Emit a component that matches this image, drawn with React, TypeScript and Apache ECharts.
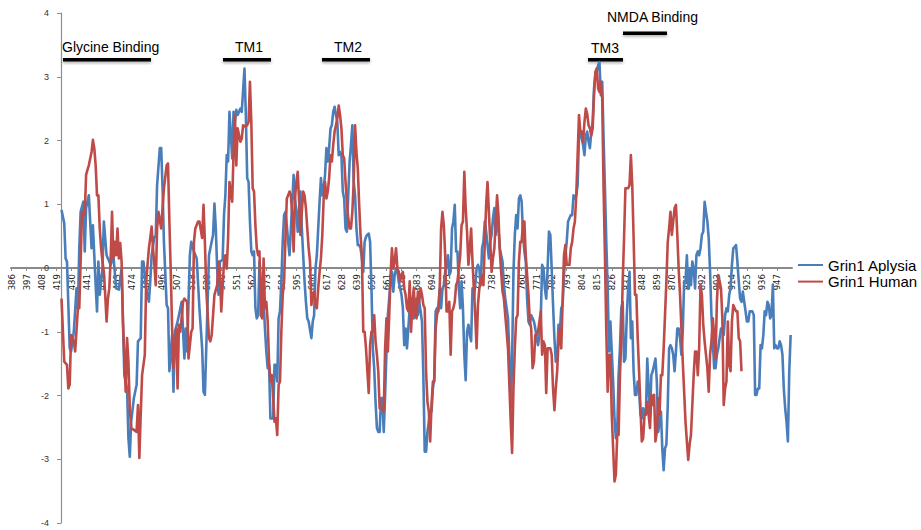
import React, { useEffect, useRef } from "react";
import * as echarts from "echarts";

// Residue tick labels along the sequence axis
const xTickLabels = [386,397,408,419,430,441,452,463,474,485,496,507,518,529,540,551,562,573,584,595,606,617,628,639,650,661,672,683,694,705,716,727,738,749,760,771,782,793,804,815,826,837,848,859,870,881,892,903,914,925,936,947];

const seriesNames = ["Grin1 Aplysia", "Grin1 Human"];

// Grin1 Aplysia hydrophobicity: [residue, score]
const aplysiaA = [[423,0.91],[425,0.70],[426,0.15],[427,0.10],[429,-1.26],[430,-1.31],[432,-1.00],[434,-0.32],[435,-0.63],[436,0.31],[437,0.88],[439,1.04],[440,0.26],[441,0.94],[443,1.14],[445,0.31],[446,0.67],[448,-0.27],[449,-0.68],[450,0.10],[451,-0.42],[453,-0.01],[454,0.73],[456,0.20],[457,0.15],[459,0.05],[461,0.20],[462,-0.06],[463,-0.32],[465,-0.34],[467,-0.01],[468,-0.84],[469,-1.68],[471,-1.89],[472,-2.67],[473,-2.96],[474,-2.41],[476,-2.04],[478,-1.83],[479,-1.15],[481,-1.10],[482,0.10],[483,0.10],[485,-0.32],[487,-0.53],[488,-0.21],[489,0.20],[491,0.49],[492,0.49],[493,1.30],[495,1.88],[496,1.88],[497,1.25],[498,0.41],[500,-0.58],[501,-0.63],[502,-1.62],[504,-1.05],[505,-1.94],[506,-1.00],[508,-0.84],[509,-0.74],[511,-0.53],[513,-1.42],[514,-0.95],[515,-1.31],[517,0.20],[518,0.41],[520,0.26],[522,0.15],[524,-0.63],[526,-1.26],[527,-1.94],[528,-1.99],[529,-1.26],[531,0.20],[532,0.31],[534,0.52],[535,1.01],[536,0.62],[537,-0.01],[538,-0.42],[539,0.10],[541,0.13],[542,0.83],[543,1.14],[544,1.77],[545,1.67],[546,2.45],[548,1.72],[549,2.45],[550,2.29],[551,2.48],[552,2.40],[554,2.50],[555,2.45]];
const aplysiaB = [[557,3.13],[558,2.40],[559,1.41],[560,1.35],[561,0.73],[562,0.26],[563,0.20],[564,0.26],[565,-0.63],[566,-0.79],[567,-0.74],[568,0.10],[569,-0.21],[570,-0.68],[571,-0.53],[572,-0.95],[573,-1.31],[574,-1.57],[575,-1.52],[576,-2.36],[578,-2.36],[579,-1.52],[580,-1.52],[581,-1.78],[582,-0.79],[583,-0.68],[584,-0.21],[585,0.41],[586,0.83],[587,0.88],[588,0.67],[589,0.41],[590,0.20],[591,0.62],[592,1.04],[593,1.46],[594,1.09],[595,0.88],[596,0.57],[597,0.94],[598,1.20],[599,0.62],[600,0.20],[601,-0.21],[602,-0.53],[603,-0.79],[604,-0.84],[606,-1.10],[607,-0.84],[608,-0.74],[609,-0.01],[610,0.20],[611,0.62],[612,1.04],[613,1.41],[614,1.14],[615,1.25],[616,1.46],[617,1.88],[618,1.67],[619,1.88],[620,2.19],[621,2.24],[622,2.45],[623,2.53],[624,2.40],[625,2.29],[626,1.77],[627,1.82],[628,1.77],[629,1.20],[630,1.09],[631,0.62],[632,0.57],[633,1.14],[634,1.67],[635,1.93],[636,2.24],[637,1.35],[638,1.14],[639,0.62],[640,0.36],[641,0.36],[642,0.31],[643,0.15],[644,-0.06],[645,0.41],[646,0.49],[647,0.52],[648,0.54],[649,0.41],[650,-0.32],[651,-1.26],[652,-1.57],[653,-2.10],[654,-2.51],[655,-2.57],[656,-2.57],[657,-2.04],[658,-2.04],[659,-2.57],[660,-1.99],[661,-1.31],[662,-0.74],[663,-0.48],[664,-0.21],[665,-0.06],[666,-0.37],[667,-0.11],[668,-0.01],[669,-0.06],[670,-0.21],[671,-0.32],[672,-0.42],[673,-0.63],[674,-1.21],[675,-0.95],[676,-1.26],[677,-0.95],[678,-0.63],[679,-0.79],[680,-0.48],[681,-0.79],[682,-0.53],[683,-0.48],[684,-0.74],[685,-0.53],[686,-0.68],[687,-0.84],[688,-1.68],[689,-2.88]];
const aplysiaC = [[690,-2.88],[691,-2.57],[692,-2.41],[693,-2.25],[694,-2.25],[695,-1.89],[696,-1.73],[697,-0.68],[698,-0.63],[699,-0.68],[700,-0.32],[701,-0.63],[702,-0.32],[703,-0.27],[704,-0.06],[705,0.05],[706,0.20],[707,-0.11],[708,-0.06],[709,0.62],[710,0.73],[711,0.99],[712,0.26],[713,0.26],[714,-0.32],[715,-0.63],[716,-0.21],[717,-0.63],[718,-1.36],[719,-1.76],[720,-1.00],[721,-0.89],[722,-1.05],[723,-1.15],[724,-0.32],[725,-0.48],[726,-0.27],[727,-0.01],[728,0.05],[729,-0.01],[730,-0.27],[731,0.31],[732,0.41],[733,0.73],[734,0.57],[735,0.36],[736,0.15],[737,0.41],[738,0.52],[739,0.78],[740,0.94],[741,0.52],[742,0.78],[743,0.62],[744,0.31],[745,0.20],[746,0.10],[747,-0.27],[748,-0.48],[749,-0.63],[750,-0.79],[751,-1.36],[752,-2.20],[753,-1.47],[754,-0.06],[755,0.52],[756,0.83],[757,0.62],[758,1.09],[759,1.14],[760,1.04],[761,0.52],[762,0.26],[763,0.10],[764,-0.48],[765,-0.84],[766,-0.89],[767,-0.74],[768,-0.79],[769,-0.84],[770,-0.95],[771,-1.10],[772,-1.21],[773,-1.05],[774,-0.79],[775,0.05],[776,-0.01],[777,-0.32],[778,-0.48],[779,-0.01],[780,0.57],[781,0.52],[782,-0.01],[783,-0.58],[784,-1.10],[785,-1.47],[786,-1.42],[787,-0.89],[788,-1.00],[789,-0.63],[790,-0.58],[791,-0.11],[792,0.20],[793,0.41],[794,0.73],[795,0.78],[796,0.83],[797,0.83],[798,1.14],[799,1.09],[800,1.14],[801,1.30],[802,2.08],[803,2.14],[804,2.03],[805,1.93],[806,1.77],[807,2.08],[808,2.14],[809,1.98],[810,1.88],[811,2.14],[812,2.29],[813,2.82],[814,3.03],[815,3.08],[816,3.18],[817,3.23],[818,2.71]];
const aplysiaD = [[819,2.92],[820,2.03],[821,1.25],[822,0.41],[823,-0.32],[824,-1.31],[825,-0.84],[826,-1.31],[827,-1.78],[828,-2.36],[829,-2.67],[830,-2.57],[831,-1.68],[832,-1.26],[833,-0.63],[834,-0.53],[835,-1.47],[836,-1.42],[837,-0.74],[838,-0.32],[839,-0.06],[840,-1.10],[841,-0.84],[842,-1.62],[843,-1.99],[844,-1.99],[845,-1.78],[846,-1.89],[847,-2.30],[848,-2.36],[849,-2.20],[850,-2.30],[851,-2.30],[852,-1.42],[853,-1.89],[854,-2.30],[855,-1.68],[856,-1.62],[857,-1.52],[858,-1.42],[859,-1.78],[860,-2.57],[861,-2.41],[862,-2.25],[863,-2.83],[864,-3.17],[865,-2.83],[866,-2.77],[867,-2.15],[868,-1.26],[869,-1.21],[870,-1.26],[871,-1.36],[872,-1.62],[873,-1.31],[874,-0.95],[875,-0.95],[876,-1.10],[877,-1.36],[878,-1.00],[879,-0.21],[880,-0.21],[881,0.20],[882,-0.32],[883,-0.01],[884,-0.27],[885,0.10],[886,-0.01],[887,-0.32],[888,0.20],[889,0.26],[890,0.20],[891,0.31],[892,0.52],[893,0.57],[894,1.04],[895,0.88],[896,0.73],[897,0.47],[898,-0.06],[899,-0.74],[900,-1.15],[901,-1.57],[902,-1.57],[903,-1.36],[904,-1.26],[905,-1.10],[906,-0.95],[907,-0.95],[908,-1.05],[909,-0.74],[910,-0.63],[911,-0.68],[912,-0.42],[913,-0.32],[914,0.05],[915,0.31],[916,0.33],[917,0.36],[918,0.10],[919,-0.21],[920,-0.48],[921,-0.53],[922,-0.37],[923,-0.53],[924,-0.68],[925,-0.84],[926,-0.84],[927,-0.68],[928,-0.68],[929,-0.68],[930,-0.74],[931,-1.99],[932,-1.99],[933,-1.89],[934,-1.89],[935,-1.21],[936,-1.26],[937,-1.05],[938,-0.68],[939,-0.74],[940,-0.53],[941,-0.58],[942,-0.79],[943,-0.74],[944,-0.26],[945,-1.26],[946,-1.21],[947,-1.26],[948,-1.26],[949,-1.15],[950,-1.21],[951,-1.36],[952,-1.89],[953,-2.20],[954,-2.41],[955,-2.72],[956,-1.62],[957,-1.05]];

// Grin1 Human hydrophobicity: [residue, score]
const humanA = [[423,-0.48],[425,-1.47],[427,-1.52],[428,-1.89],[429,-1.83],[430,-1.05],[432,-1.15],[433,-1.31],[435,-0.63],[436,-0.63],[437,0.10],[438,0.88],[440,0.83],[441,1.46],[442,1.54],[443,1.61],[445,1.82],[446,2.01],[447,1.88],[448,1.61],[449,1.14],[450,1.14],[451,0.62],[452,0.31],[453,0.10],[454,-0.06],[455,-0.42],[456,-0.84],[457,-0.48],[458,-0.32],[459,0.15],[460,0.88],[461,0.15],[462,0.41],[463,0.20],[464,0.62],[465,0.15],[466,0.39],[467,0.10],[468,-0.84],[470,-1.94],[471,-1.10],[472,-1.47],[473,-2.20],[474,-2.51],[476,-2.54],[478,-2.57],[479,-2.15],[480,-2.98],[481,-2.30],[482,-1.68],[484,-1.36],[485,-0.21],[487,0.31],[488,0.47],[489,0.65],[490,0.31],[491,0.05],[492,-0.27],[493,0.62],[494,0.88],[496,0.62],[497,0.94],[498,1.25],[500,1.61],[501,1.64],[502,0.73],[503,-0.06],[504,-0.95],[505,-1.57],[507,-0.95],[508,-1.89],[509,-0.89],[510,-1.00],[512,-0.53],[513,-0.48],[515,-0.53],[516,-1.42],[518,-1.00],[519,-0.95],[520,0.41],[521,0.62],[523,0.73],[524,0.73],[526,0.47],[527,0.99],[528,0.41],[529,-0.32],[531,-1.10],[532,-1.15],[533,-1.05],[534,-0.74],[535,-0.42],[537,-0.27],[538,0.10],[539,-0.06],[540,-0.68],[542,0.10],[543,0.20],[544,-0.01],[545,0.47],[546,1.35],[548,1.04],[549,1.82],[550,2.40],[551,1.61],[552,2.19],[554,1.98],[555,2.03],[556,2.24]];
const humanB = [[557,2.22],[559,2.24],[560,2.29],[561,2.92],[562,2.29],[563,1.25],[564,1.20],[565,0.67],[566,0.31],[567,0.20],[568,0.26],[569,-0.74],[570,-0.79],[571,0.15],[572,-0.63],[573,-0.53],[574,-0.84],[575,-1.47],[576,-1.78],[577,-1.68],[578,-2.04],[579,-2.41],[580,-2.36],[581,-2.62],[582,-1.83],[583,-1.78],[584,-1.00],[585,-0.42],[586,-0.21],[587,0.47],[588,1.09],[589,1.14],[590,1.20],[591,1.14],[592,0.83],[593,0.26],[594,1.09],[595,1.35],[596,1.51],[597,1.04],[598,0.52],[599,0.88],[600,1.20],[601,1.14],[602,0.94],[603,0.62],[604,0.31],[605,0.10],[606,-0.58],[607,-0.42],[608,-0.37],[609,-0.58],[610,-0.63],[611,-0.32],[612,-0.06],[613,0.15],[614,0.52],[615,1.09],[616,1.35],[617,1.09],[618,1.20],[619,1.41],[620,1.77],[621,1.67],[622,1.93],[623,2.14],[624,2.24],[625,2.35],[626,2.55],[627,2.40],[628,2.19],[629,1.77],[630,1.72],[631,1.35],[632,1.04],[633,0.78],[634,0.62],[635,0.62],[636,0.88],[637,1.35],[638,2.24],[639,1.82],[640,1.56],[641,0.99],[642,0.52],[643,0.20],[644,-1.00],[645,-1.00],[646,-1.26],[647,-1.62],[648,-1.96],[649,-1.21],[650,-1.00],[651,-1.00],[652,-0.74],[653,-1.15],[654,-1.36],[655,-1.62],[656,-2.20],[657,-2.20],[658,-2.20],[659,-2.25],[660,-1.26],[661,-0.79],[662,-1.31],[663,-0.74],[664,-0.11],[665,0.31],[666,-0.01],[667,0.10],[668,0.31],[669,-0.01],[670,-0.06],[671,-0.21],[672,-0.11],[673,-0.06],[674,-0.32],[675,-0.42],[676,-0.63],[677,-0.68],[678,-0.21],[679,-1.00],[680,-0.53],[681,-0.32],[682,-0.74],[683,-0.79],[684,-0.37],[685,-0.53],[686,-0.32],[687,-0.42],[688,-0.58],[689,-0.63]];
const humanC = [[690,-1.62],[691,-2.10],[692,-2.25],[693,-2.72],[694,-2.15],[695,-1.78],[696,-1.78],[697,-0.95],[698,-0.74],[699,-0.63],[700,-0.32],[701,0.62],[702,0.88],[703,0.67],[704,0.20],[705,-0.68],[706,-0.68],[707,-0.53],[708,-1.36],[709,-0.68],[710,-0.63],[711,-0.53],[712,-0.27],[713,-0.21],[714,-0.01],[715,0.20],[716,0.67],[717,0.73],[718,1.51],[719,0.94],[720,0.57],[721,0.05],[722,0.31],[723,0.62],[724,0.10],[725,-0.32],[726,-0.74],[727,-1.26],[728,-0.58],[729,-0.32],[730,-0.21],[731,-0.11],[732,-0.27],[733,0.41],[734,0.99],[735,1.35],[736,0.88],[737,0.41],[738,-0.06],[739,0.15],[740,0.31],[741,0.73],[742,1.14],[743,0.83],[744,0.26],[745,-0.06],[746,-0.37],[747,-0.48],[748,-0.74],[749,-1.00],[750,-1.26],[751,-1.83],[752,-2.41],[753,-2.90],[754,-1.89],[755,-1.26],[756,-0.79],[757,-0.74],[758,0.10],[759,0.41],[760,0.41],[761,0.73],[762,0.73],[763,0.20],[764,-0.11],[765,-0.42],[766,-0.84],[767,-0.95],[768,-1.57],[769,-1.47],[770,-1.05],[771,-1.05],[772,-1.00],[773,-0.84],[774,-0.68],[775,-1.36],[776,-1.15],[777,-1.21],[778,-1.96],[779,-1.26],[780,-1.26],[781,-1.26],[782,-1.36],[783,-1.89],[784,-2.23],[785,-1.89],[786,-1.62],[787,-1.15],[788,-0.95],[789,-1.26],[790,-0.53],[791,0.20],[792,0.36],[793,0.05],[794,0.05],[795,0.05],[796,0.31],[797,0.41],[798,0.62],[799,0.73],[800,1.14],[801,1.77],[802,2.40],[803,2.14],[804,2.14],[805,1.98],[806,2.29],[807,2.50],[808,2.42],[809,2.24],[810,2.19],[811,2.08],[812,2.19],[813,2.71],[814,3.08],[815,3.13],[816,2.82],[817,2.76],[818,2.92],[819,2.66]];
const humanD = [[820,1.25],[821,0.20],[822,-1.00],[823,-1.94],[824,-1.36],[825,-1.36],[826,-2.30],[827,-2.83],[828,-3.35],[829,-3.24],[830,-2.62],[831,-2.62],[832,-1.68],[833,-1.15],[834,-0.21],[835,0.47],[836,1.25],[837,1.25],[838,1.25],[839,1.30],[840,1.77],[841,1.30],[842,0.47],[843,-0.42],[844,-0.42],[845,-1.10],[846,-1.62],[847,-2.20],[848,-2.72],[849,-2.67],[850,-2.30],[851,-2.30],[852,-2.10],[853,-2.30],[854,-2.51],[855,-1.99],[856,-2.15],[857,-1.99],[858,-2.72],[859,-2.57],[860,-2.04],[861,-2.30],[862,-1.68],[863,-1.68],[864,-1.26],[865,-0.74],[866,-0.21],[867,0.41],[868,0.62],[869,0.88],[870,0.52],[871,0.73],[872,0.94],[873,0.99],[874,0.52],[875,-0.01],[876,-0.42],[877,-0.95],[878,-1.47],[879,-1.94],[880,-2.41],[881,-2.72],[882,-3.01],[883,-2.77],[884,-2.62],[885,-2.15],[886,-1.68],[887,-1.31],[888,-1.31],[889,-1.68],[890,-1.26],[891,-0.27],[892,-0.42],[893,-0.89],[894,-1.15],[895,-1.36],[896,-1.57],[897,-1.94],[898,-1.36],[899,-1.15],[900,-0.79],[901,-1.05],[902,-1.42],[903,-0.53],[904,-0.11],[905,-0.21],[906,-0.32],[907,-0.79],[908,-2.15],[909,-1.89],[910,-1.78],[911,-0.84],[912,-1.52],[913,-1.62],[914,-0.84],[915,-0.58],[916,-0.63],[917,-0.68],[918,-0.68],[919,-1.10],[920,-1.15],[921,-1.62]];

const aplysiaData = [...aplysiaA, ...aplysiaB, ...aplysiaC, ...aplysiaD];
const humanData = [...humanA, ...humanB, ...humanC, ...humanD];

const FONT = "'Liberation Sans', Arial, Helvetica, sans-serif";
const NARROW = "'Liberation Sans Narrow', 'DejaVu Sans Condensed', 'Arial Narrow', sans-serif";

export default function App() {
  const ref = useRef<HTMLDivElement>(null);
  useEffect(() => {
    if (!ref.current) return;
    const chart = echarts.init(ref.current, undefined, { renderer: "svg" });
    const bar = (x: number, y: number, w: number) => ({
      type: "rect",
      shape: { x, y, width: w, height: 3.5 },
      style: { fill: "#000", shadowBlur: 3, shadowColor: "rgba(0,0,0,0.35)", shadowOffsetY: 1.5 },
      silent: true,
    });
    const label = (text: string, x: number, y: number) => ({
      type: "text",
      x,
      y,
      style: { text, fontSize: 14, fontFamily: FONT, fill: "#000", verticalAlign: "middle", align: "left" },
      silent: true,
    });
    chart.setOption({
      animation: false,
      backgroundColor: "#fff",
      grid: { left: 11, right: 129, top: 13, bottom: 7, containLabel: false },
      xAxis: {
        type: "value",
        min: 386,
        max: 958,
        offset: -255,
        axisLine: { show: true, onZero: false, lineStyle: { color: "#8a8a8a", width: 2 } },
        axisTick: { show: true, customValues: xTickLabels, length: 3, lineStyle: { color: "#8a8a8a" } },
        axisLabel: {
          customValues: xTickLabels,
          rotate: 90,
          fontSize: 9.5,
          color: "#222",
          margin: 6,
          fontFamily: NARROW,
        },
        splitLine: { show: false },
      },
      yAxis: {
        type: "value",
        min: -4,
        max: 4,
        interval: 1,
        offset: -50,
        axisLine: { show: true, lineStyle: { color: "#8e8e8e", width: 1.2 } },
        axisTick: { show: true, length: 4, lineStyle: { color: "#8e8e8e" } },
        axisLabel: { fontSize: 9, color: "#333", margin: 12, fontFamily: FONT },
        splitLine: { show: false },
      },
      legend: {
        orient: "vertical",
        left: 798,
        top: 257,
        padding: 0,
        icon: "rect",
        itemWidth: 25,
        itemHeight: 2,
        itemGap: 0.6,
        textStyle: { fontSize: 15, color: "#000", fontFamily: FONT, lineHeight: 16 },
        data: seriesNames,
      },
      series: [
        {
          name: seriesNames[0],
          type: "line",
          data: aplysiaData,
          symbol: "none",
          showSymbol: false,
          lineStyle: { color: "#4A7EBB", width: 2.6, join: "round" },
          itemStyle: { color: "#4A7EBB" },
          z: 2,
        },
        {
          name: seriesNames[1],
          type: "line",
          data: humanData,
          symbol: "none",
          showSymbol: false,
          lineStyle: { color: "#BE4B48", width: 2.6, join: "round" },
          itemStyle: { color: "#BE4B48" },
          z: 3,
        },
      ],
      graphic: [
        label("Glycine Binding", 62, 47),
        bar(63, 58, 88),
        label("TM1", 235, 47),
        bar(223, 58, 48),
        label("TM2", 334, 47),
        bar(322, 58, 48),
        label("TM3", 591, 47.5),
        bar(588, 58, 35),
        label("NMDA Binding", 607, 17),
        bar(623, 31.5, 44),
      ],
    });
    return () => chart.dispose();
  }, []);
  return (
    <div
      ref={ref}
      style={{ position: "fixed", left: 0, top: 0, width: 921, height: 530, background: "#fff" }}
    />
  );
}
